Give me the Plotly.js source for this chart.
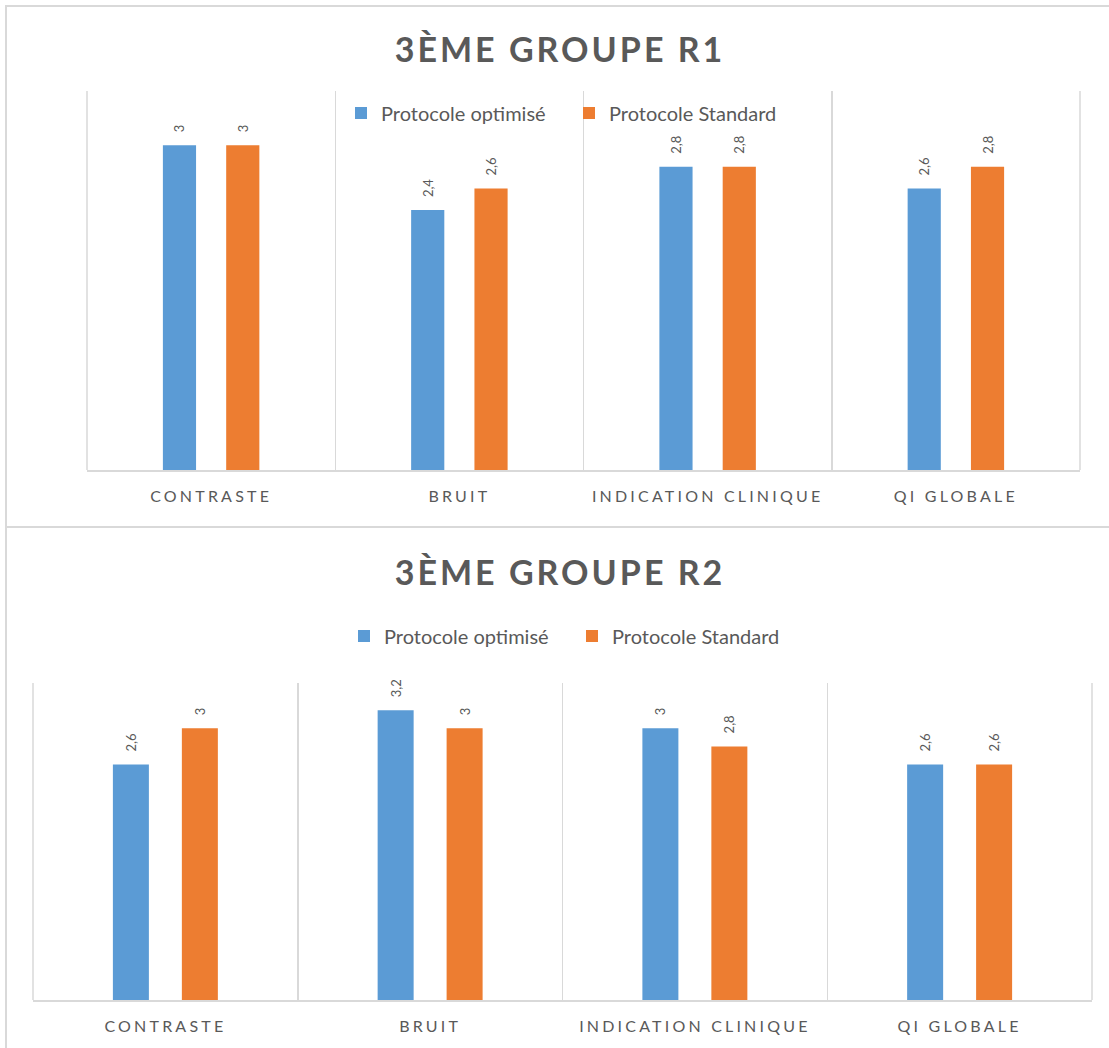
<!DOCTYPE html>
<html>
<head>
<meta charset="utf-8">
<script src="https://cdn.plot.ly/plotly-3.0.1.min.js"></script>
<style>
  html, body { margin: 0; padding: 0; background: #ffffff; }
  #wrap { position: relative; width: 1109px; height: 1048px; overflow: hidden; }
  #chartA { position: absolute; left: 0; top: 0; width: 1109px; height: 527px; }
  #chartB { position: absolute; left: 0; top: 527px; width: 1109px; height: 521px; }
  .frame { position: absolute; background: #d9d9d9; }
  .xtick text { letter-spacing: 3.2px; }
  .gtitle { letter-spacing: 3px; }
</style>
</head>
<body>
<div id="wrap">
  <div id="chartA"></div>
  <div id="chartB"></div>
  <div class="frame" style="left:5px; top:5px; width:1104px; height:2px;"></div>
  <div class="frame" style="left:5px; top:5px; width:2px; height:1043px;"></div>
  <div class="frame" style="left:5px; top:526px; width:1104px; height:2px;"></div>
</div>
<script>
// ---- data ----
const categories = ["CONTRASTE", "BRUIT", "INDICATION CLINIQUE", "QI GLOBALE"];
const seriesNames = ["Protocole optimisé", "Protocole Standard"];
const r1Optimise = [3, 2.4, 2.8, 2.6];
const r1Standard = [3, 2.6, 2.8, 2.8];
const r2Optimise = [2.6, 3.2, 3, 2.6];
const r2Standard = [3, 3, 2.8, 2.6];
const titleR1 = "3ÈME GROUPE R1";
const titleR2 = "3ÈME GROUPE R2";

// ---- styling ----
const BLUE = "#5B9BD5", ORANGE = "#ED7D31", GRAY = "#595959", GRID = "#D9D9D9";
const FONT = "Lato, 'Open Sans', sans-serif";
const PAD = "\u00a0\u00a0\u00a0";

function fmt(v) { return PAD + String(v).replace(".", ","); }

function barTrace(name, vals, color) {
  return {
    type: "bar", name: name, x: categories, y: vals,
    marker: { color: color },
    text: vals.map(fmt), textposition: "outside", textangle: -90,
    textfont: { family: FONT, size: 13, color: GRAY },
    cliponaxis: false, hoverinfo: "x+y"
  };
}

function edgeLine(x) {
  return { type: "line", xref: "paper", yref: "paper", x0: x, x1: x, y0: 0, y1: 1,
           line: { color: GRID, width: 1.5 }, layer: "below" };
}

function makeLayout(h, m, title, titleY, legend, bargap, bargroupgap) {
  return {
    width: 1109, height: h,
    margin: m,
    paper_bgcolor: "rgba(0,0,0,0)", plot_bgcolor: "rgba(0,0,0,0)",
    font: { family: FONT, color: GRAY },
    title: {
      text: title, x: 560 / 1109, xanchor: "center",
      y: titleY, yref: "container", yanchor: "middle",
      font: { family: FONT, size: 34, color: GRAY, weight: "bold" }
    },
    barmode: "group", bargap: bargap, bargroupgap: bargroupgap,
    showlegend: true,
    legend: Object.assign({
      orientation: "h", xanchor: "left", yanchor: "middle",
      font: { family: FONT, size: 20, color: GRAY },
      entrywidth: 183, entrywidthmode: "pixels", itemwidth: 30,
      bgcolor: "rgba(0,0,0,0)"
    }, legend),
    shapes: [edgeLine(0), edgeLine(1)],
    xaxis: {
      type: "category", tickson: "boundaries", showgrid: true,
      gridcolor: GRID, gridwidth: 1.5,
      showline: true, linecolor: GRID, linewidth: 1.5, mirror: false,
      ticks: "", ticklabelstandoff: 11,
      tickfont: { family: FONT, size: 16, color: GRAY },
      range: [-0.5, 3.5], fixedrange: true
    },
    yaxis: {
      range: [0, 3.5], visible: false, showgrid: false, zeroline: false, fixedrange: true
    }
  };
}

const layoutA = makeLayout(527, { l: 87, r: 29, t: 91, b: 57, autoexpand: false }, titleR1,
  1 - 50 / 527,
  { xref: "paper", yref: "paper", x: (341 - 87) / 993, y: (470 - 113) / 379 },
  0.49, 0.476);
const layoutB = makeLayout(521, { l: 33, r: 17, t: 156, b: 48, autoexpand: false }, titleR2,
  1 - 46 / 521,
  { xref: "container", yref: "container", x: 344 / 1109, y: 1 - 109 / 521 },
  0.479, 0.478);

const config = { staticPlot: true, displayModeBar: false };

Plotly.newPlot("chartA", [barTrace(seriesNames[0], r1Optimise, BLUE), barTrace(seriesNames[1], r1Standard, ORANGE)], layoutA, config);
Plotly.newPlot("chartB", [barTrace(seriesNames[0], r2Optimise, BLUE), barTrace(seriesNames[1], r2Standard, ORANGE)], layoutB, config);
</script>
</body>
</html>
